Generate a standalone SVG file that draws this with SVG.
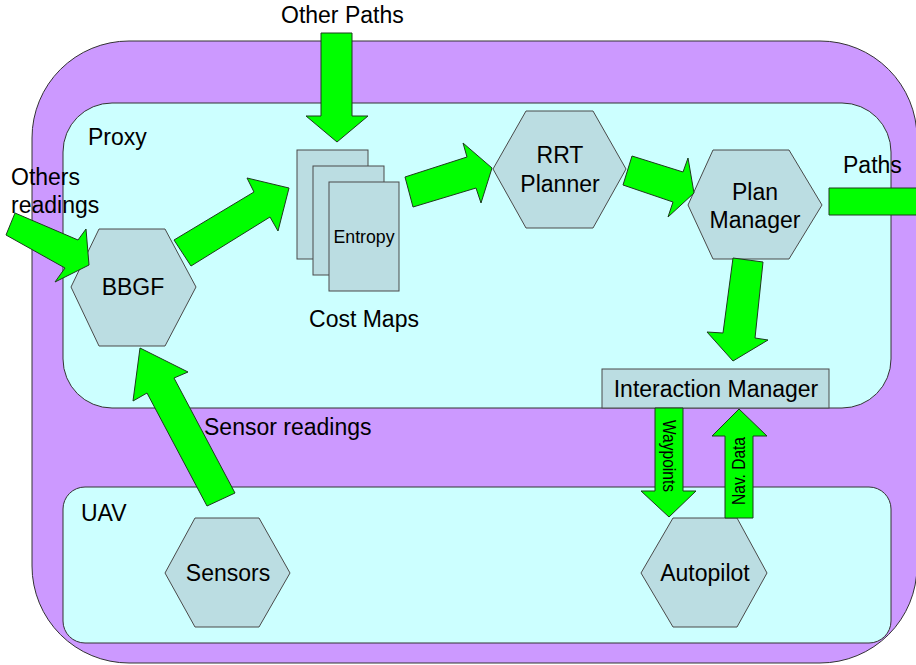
<svg xmlns="http://www.w3.org/2000/svg" width="916" height="665" viewBox="0 0 916 665">
  <style>
    .txt { font-family: "Liberation Sans", Arial, sans-serif; fill: #000; }
    .lbl { font-size: 23px; }
    .hex { fill: #BBDDE2; stroke: #4a4a4a; stroke-width: 1; }
    .page { fill: #BBDDE2; stroke: #4a4a4a; stroke-width: 1; }
    .arrow { fill: #00FF00; stroke: #1e3a1e; stroke-width: 1; stroke-linejoin: miter; }
    .zone { stroke: #333; stroke-width: 1; }
  </style>
  <rect width="916" height="665" fill="#fff"/>

  <!-- outer system boundary -->
  <g id="system">
    <rect class="zone" x="32" y="41" width="885" height="622" rx="97" ry="97" fill="#CC99FF"/>
  </g>

  <!-- Proxy container -->
  <g id="proxy">
    <rect class="zone" x="63" y="103" width="828" height="305" rx="49" ry="49" fill="#CCFFFF"/>
    <text class="txt lbl" x="88" y="145">Proxy</text>
  </g>

  <!-- UAV container -->
  <g id="uav">
    <rect class="zone" x="63" y="487" width="828" height="156" rx="22" ry="22" fill="#CCFFFF"/>
    <text class="txt lbl" x="81" y="521">UAV</text>
  </g>

  <g id="bbgf">
    <polygon class="hex" points="99,229 165,229 196,287 165,346 99,346 71,287"/>
    <text class="txt lbl" x="133" y="295" text-anchor="middle">BBGF</text>
  </g>

  <g id="cost-maps">
    <rect class="page" x="297" y="150" width="71" height="109"/>
    <rect class="page" x="313" y="166" width="71" height="109"/>
    <rect class="page" x="329" y="182" width="70" height="109"/>
    <text class="txt" x="364" y="243" font-size="18" text-anchor="middle" textLength="61" lengthAdjust="spacingAndGlyphs">Entropy</text>
    <text class="txt lbl" x="364" y="327" text-anchor="middle">Cost Maps</text>
  </g>

  <g id="rrt-planner">
    <polygon class="hex" points="526,111 593,111 626,169 593,228 526,228 493,169"/>
    <text class="txt lbl" x="560" y="163" text-anchor="middle">RRT</text>
    <text class="txt lbl" x="560" y="192" text-anchor="middle">Planner</text>
  </g>

  <g id="plan-manager">
    <polygon class="hex" points="713,150 789,150 822,205 789,259 713,259 688,205"/>
    <text class="txt lbl" x="755" y="200" text-anchor="middle">Plan</text>
    <text class="txt lbl" x="755" y="228" text-anchor="middle">Manager</text>
  </g>

  <g id="interaction-manager">
    <rect class="page" x="602" y="369" width="227" height="39"/>
    <text class="txt lbl" x="716" y="397" text-anchor="middle">Interaction Manager</text>
  </g>

  <g id="sensors">
    <polygon class="hex" points="195,518 259,518 290,573 259,627 195,627 165,573"/>
    <text class="txt lbl" x="228" y="581" text-anchor="middle">Sensors</text>
  </g>

  <g id="autopilot">
    <polygon class="hex" points="673,518 737,518 767,573 737,627 673,627 641,573"/>
    <text class="txt lbl" x="705" y="581" text-anchor="middle">Autopilot</text>
  </g>

  <!-- block-arrow connectors -->
  <g id="connectors">
    <polygon class="arrow" points="321,33 352,33 352,116 368,116 337,142 306,116 321,116"/>
    <polygon class="arrow" points="15,213 78,240 86,229 89,265 55,282 65,268 6,235"/>
    <polygon class="arrow" points="174,240 254,192 247,178 289,188 278,231 270,217 191,266"/>
    <polygon class="arrow" points="405,177 467,157 463,143 492,168 481,203 476,188 413,207"/>
    <polygon class="arrow" points="632,156 683,172 688,158 694,193 668,217 673,202 623,185"/>
    <polygon class="arrow" points="829,188 920,188 920,215 829,215"/>
    <polygon class="arrow" points="733,258 763,262 755,338 768,340 733,361 707,332 723,333"/>
    <polygon class="arrow" points="655,408 683,408 683,491 696,491 669,517 641,491 655,491"/>
    <polygon class="arrow" points="725,518 753,518 753,436 767,436 739,409 712,436 725,436"/>
    <polygon class="arrow" points="207,506 235,493 174,378 188,372 140,348 133,401 147,393"/>
    <text class="txt" font-size="18" text-anchor="middle" dominant-baseline="central" textLength="72" lengthAdjust="spacingAndGlyphs" transform="translate(669,456) rotate(90)">Waypoints</text>
    <text class="txt" font-size="18" text-anchor="middle" dominant-baseline="central" textLength="68" lengthAdjust="spacingAndGlyphs" transform="translate(739,471) rotate(-90)">Nav. Data</text>
  </g>

  <!-- free labels -->
  <g id="labels">
    <text class="txt lbl" x="281" y="23">Other Paths</text>
    <text class="txt lbl" x="11" y="185">Others</text>
    <text class="txt lbl" x="11" y="213">readings</text>
    <text class="txt lbl" x="843" y="173">Paths</text>
    <text class="txt lbl" x="204" y="435">Sensor readings</text>
  </g>
</svg>
